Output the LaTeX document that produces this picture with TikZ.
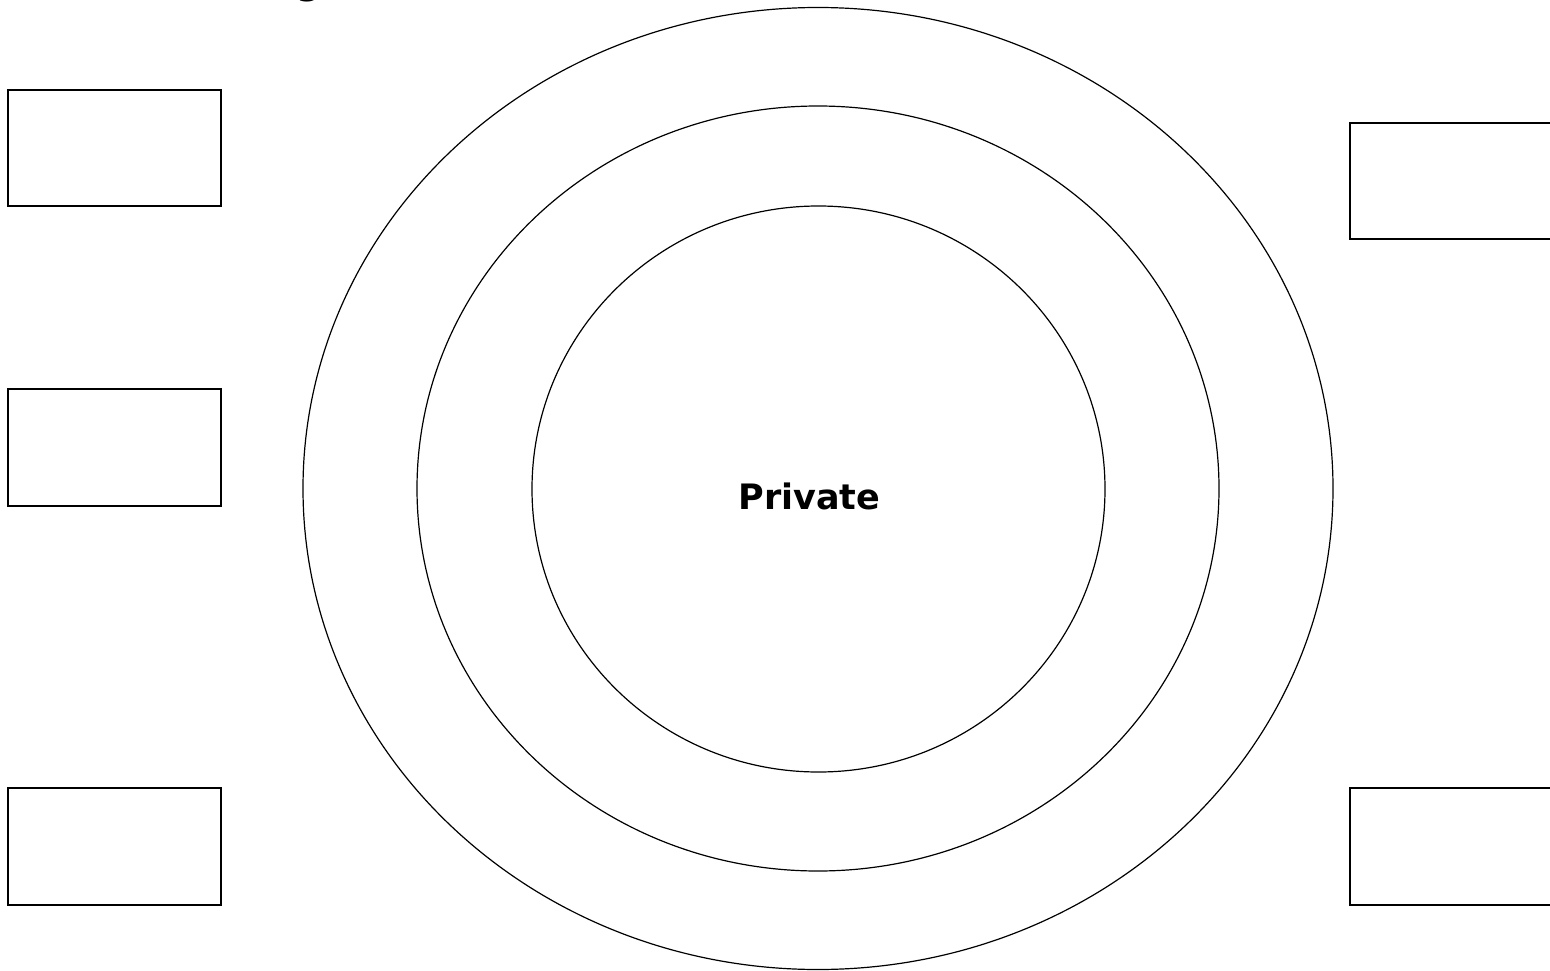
\documentclass[tikz,border=0pt]{standalone}
\usepackage{fontspec}
\setmainfont{DejaVu Sans}
\usetikzlibrary{shapes.geometric}
\tikzset{
  ring/.style={draw=black, line width=1.2pt, ellipse, inner sep=0pt},
  box/.style={draw=black, line width=1.3pt, rectangle, inner sep=0pt},
  lbl/.style={font=\bfseries\fontsize{35}{40}\selectfont, inner sep=0pt}
}
\begin{document}
\begin{tikzpicture}[x=1pt,y=-1pt]
\useasboundingbox (0,0) rectangle (1550,971);
\clip (0,0) rectangle (1550,971);
\fill[white] (0,0) rectangle (1550,971);
% rings
\node[ring, minimum width=1030pt, minimum height=962pt] (outer) at (818,488.5) {};
\node[ring, minimum width=802pt, minimum height=765pt] (middle) at (818,488.5) {};
\node[ring, minimum width=573pt, minimum height=566pt] (inner) at (818.5,489) {};
\node[lbl] (priv) at (809.5,496) {Private};
% left boxes
\node[box, minimum width=213pt, minimum height=116pt] (l1) at (114.5,148) {};
\node[box, minimum width=213pt, minimum height=117pt] (l2) at (114.5,447.5) {};
\node[box, minimum width=213pt, minimum height=117pt] (l3) at (114.5,846.5) {};
% right boxes (cut by the right edge)
\node[box, minimum width=220pt, minimum height=116pt] (r1) at (1460,181) {};
\node[box, minimum width=220pt, minimum height=117pt] (r2) at (1460,846.5) {};
% cut-off title fragment
\node[lbl, anchor=base] (title) at (309,-5.5) {g};
\end{tikzpicture}
\end{document}
